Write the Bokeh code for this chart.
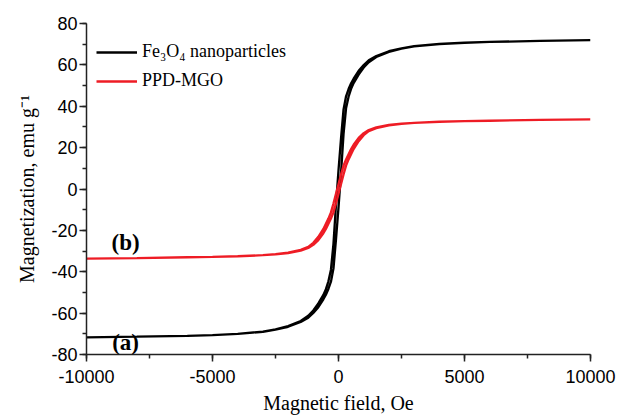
from bokeh.plotting import figure
from bokeh.models import (Legend, LegendItem, Label, SingleIntervalTicker, Range1d, CustomJSTickFormatter)
from bokeh.embed import file_html
from bokeh.resources import INLINE

# ---- data ----
# Fe3O4 nanoparticles: descending branch (+10000 -> -10000)
fe_H_desc = [10000, 8000, 6000, 5000, 4000, 3000, 2500, 2000, 1500, 1200, 1000, 800, 600, 500, 400, 300, 200, 100, 0,
             -100, -200, -300, -400, -500, -600, -800, -1000, -1200, -1500, -2000, -2500, -3000, -4000, -5000, -6000, -8000, -10000]
fe_M_desc = [72.0, 71.6, 71.1, 70.7, 70.1, 69.0, 68.0, 66.6, 64.3, 62.2, 59.9, 57.1, 53.3, 51.1, 48.3, 44.8, 38.5, 24.5, 9.0,
             -7.6, -26.5, -39.0, -44.6, -48.4, -51.2, -55.3, -58.7, -61.3, -63.8, -66.3, -67.9, -68.9, -70.0, -70.6, -71.0, -71.4, -71.7]
# Fe3O4 nanoparticles: ascending branch (-10000 -> +10000)
fe_H_asc = [-10000, -8000, -6000, -5000, -4000, -3000, -2500, -2000, -1500, -1200, -1000, -800, -600, -500, -400, -300, -200, -100, 0,
            100, 200, 300, 400, 500, 600, 800, 1000, 1200, 1500, 2000, 2500, 3000, 4000, 5000, 6000, 8000, 10000]
fe_M_asc = [-71.7, -71.4, -71.0, -70.6, -70.0, -69.0, -68.0, -66.6, -64.3, -62.2, -59.9, -57.1, -53.3, -51.1, -48.3, -44.8, -38.5, -24.5, -9.0,
            7.6, 26.5, 39.0, 44.6, 48.4, 51.2, 55.3, 58.7, 61.3, 63.8, 66.3, 67.9, 68.9, 70.1, 70.7, 71.1, 71.6, 72.0]

# PPD-MGO: descending branch
mgo_H_desc = [10000, 8000, 6000, 5000, 4000, 3000, 2500, 2000, 1500, 1200, 1000, 800, 600, 500, 400, 300, 200, 100, 0,
              -100, -200, -300, -400, -500, -600, -800, -1000, -1200, -1500, -2000, -2500, -3000, -4000, -5000, -6000, -8000, -10000]
mgo_M_desc = [33.7, 33.4, 33.0, 32.8, 32.5, 32.0, 31.6, 31.0, 29.8, 28.5, 27.0, 24.7, 21.4, 19.3, 16.8, 14.3, 11.3, 7.0, 2.3,
              -2.3, -7.0, -11.3, -14.3, -16.8, -19.3, -23.1, -26.0, -28.0, -29.4, -30.8, -31.5, -32.0, -32.5, -32.8, -33.0, -33.4, -33.7]
# PPD-MGO: ascending branch
mgo_H_asc = [-10000, -8000, -6000, -5000, -4000, -3000, -2500, -2000, -1500, -1200, -1000, -800, -600, -500, -400, -300, -200, -100, 0,
             100, 200, 300, 400, 500, 600, 800, 1000, 1200, 1500, 2000, 2500, 3000, 4000, 5000, 6000, 8000, 10000]
mgo_M_asc = [-33.7, -33.4, -33.0, -32.8, -32.5, -32.0, -31.6, -31.0, -29.8, -28.5, -27.0, -24.7, -21.4, -19.3, -16.8, -14.3, -11.3, -7.0, -2.3,
             2.3, 7.0, 11.3, 14.3, 16.8, 19.3, 23.1, 26.0, 28.0, 29.4, 30.8, 31.5, 32.0, 32.5, 32.8, 33.0, 33.4, 33.7]

series_labels = ["Fe\u2083O\u2084 nanoparticles", "PPD-MGO"]
annotations = ["(a)", "(b)"]
x_title = "Magnetic field, Oe"
y_title = "Magnetization, emu g\u207b\u00b9"

SERIF = "Liberation Serif"
SANS = "Liberation Sans"

p = figure(width=619, height=418, output_backend="svg", toolbar_location=None,
           x_range=Range1d(-10000, 10000), y_range=Range1d(-80, 80),
           min_border_left=86, min_border_right=29, min_border_top=23, min_border_bottom=64)
p.outline_line_color = None
p.xgrid.visible = False
p.ygrid.visible = False
p.background_fill_color = "white"
p.border_fill_color = "white"

r_fe = p.line(fe_H_desc + fe_H_asc, fe_M_desc + fe_M_asc, line_color="#000000", line_width=2.3)
r_mgo = p.line(mgo_H_desc + mgo_H_asc, mgo_M_desc + mgo_M_asc, line_color="#ee1c25", line_width=2.3)

fmt = CustomJSTickFormatter(code="return String(Math.round(tick));")

for ax in (p.xaxis[0], p.yaxis[0]):
    ax.formatter = fmt
    ax.axis_line_color = "#222222"
    ax.axis_line_width = 1.5
    ax.major_tick_line_color = "#222222"
    ax.minor_tick_line_color = "#222222"
    ax.major_tick_line_width = 1.5
    ax.minor_tick_line_width = 1.5
    ax.major_tick_out = 7
    ax.major_tick_in = 0
    ax.minor_tick_out = 4
    ax.minor_tick_in = 0
    ax.major_label_text_font = SANS
    ax.major_label_text_font_size = "18px"
    ax.major_label_text_color = "#000000"
    ax.axis_label_text_font = SERIF
    ax.axis_label_text_font_size = "20px"
    ax.axis_label_text_font_style = "normal"
    ax.axis_label_text_color = "#000000"

p.xaxis[0].ticker = SingleIntervalTicker(interval=5000, num_minor_ticks=2)
p.yaxis[0].ticker = SingleIntervalTicker(interval=20, num_minor_ticks=2)
p.xaxis[0].axis_label = x_title
p.yaxis[0].axis_label = y_title
p.xaxis[0].major_label_standoff = 8
p.xaxis[0].axis_label_standoff = 6
p.yaxis[0].major_label_standoff = 2
p.yaxis[0].axis_label_standoff = 10

legend = Legend(items=[LegendItem(label=series_labels[0], renderers=[r_fe]),
                       LegendItem(label=series_labels[1], renderers=[r_mgo])],
                location=(10, 263), margin=0, padding=0, spacing=8,
                glyph_width=41, glyph_height=20, label_standoff=5,
                label_text_font=SERIF, label_text_font_size="18px",
                label_text_color="#000000", label_height=20,
                border_line_color=None, background_fill_alpha=0)
p.add_layout(legend, "center")

p.add_layout(Label(x=-8450, y=-74.4, text=annotations[0], text_font=SERIF, text_font_size="23px",
                   text_color="#000000", text_font_style="bold", text_align="center", text_baseline="middle"))
p.add_layout(Label(x=-8450, y=-26.1, text=annotations[1], text_font=SERIF, text_font_size="23px",
                   text_color="#000000", text_font_style="bold", text_align="center", text_baseline="middle"))

open("out.html", "w").write(file_html(p, INLINE))
